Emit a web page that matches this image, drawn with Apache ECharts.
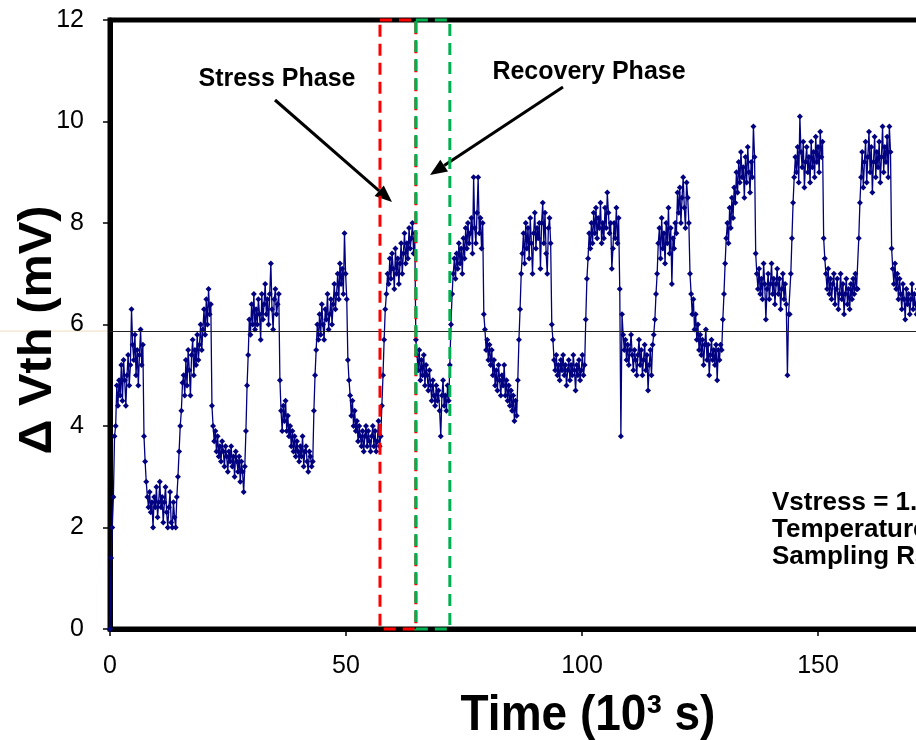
<!DOCTYPE html>
<html>
<head>
<meta charset="utf-8">
<script src="https://cdn.jsdelivr.net/npm/echarts@6/dist/echarts.min.js"></script>
<style>
  html, body { margin: 0; padding: 0; background: #fff; }
  #chart { width: 916px; height: 740px; }
</style>
</head>
<body>
<div id="chart"></div>
<script>
// 时间单位 10^3 s，每个应力/恢复阶段 7.2
const phaseLength = 7.2;
const sampleStep = 0.24;

// ΔVth (mV) 应力阶段
const stressPhases = [
  [0, 1.4, 2.0, 2.6, 3.8, 4.0, 4.8, 4.4, 4.9, 4.6, 5.2, 4.5, 5.3, 4.9, 4.4, 5.0, 5.4, 4.8, 5.2, 6.3, 5.6, 5.3, 5.8, 5.0, 5.5, 4.8, 5.4, 5.9, 5.2, 5.6],
  [3.0, 3.5, 4.0, 4.3, 4.85, 5.0, 4.6, 5.3, 4.8, 5.5, 5.1, 4.6, 5.4, 5.7, 5.0, 5.5, 5.2, 5.8, 5.3, 5.6, 6.0, 5.5, 5.9, 6.3, 5.8, 6.5, 6.0, 6.7, 6.2, 6.4],
  [3.9, 4.8, 5.4, 6.1, 5.8, 6.4, 6.0, 6.6, 5.9, 6.3, 6.0, 6.5, 6.2, 5.7, 6.6, 6.1, 6.4, 6.8, 6.2, 6.5, 6.0, 6.6, 7.2, 6.3, 5.9, 6.5, 6.7, 6.2, 6.4, 6.6],
  [4.3, 5.0, 5.5, 6.0, 5.7, 6.2, 5.8, 6.4, 6.0, 5.7, 6.3, 6.1, 6.6, 5.9, 6.2, 6.5, 6.0, 6.4, 6.8, 6.3, 6.6, 7.0, 6.5, 7.2, 6.8, 7.1, 6.6, 7.8, 7.0, 6.5],
  [4.4, 5.0, 5.7, 6.3, 6.6, 7.0, 6.8, 7.3, 6.9, 7.4, 7.1, 6.7, 7.5, 7.0, 7.3, 6.8, 7.2, 7.6, 7.0, 7.4, 7.8, 7.2, 7.6, 7.3, 7.9, 7.5, 7.7, 8.0, 7.4, 7.8],
  [5.2, 6.0, 6.6, 7.0, 7.3, 6.9, 7.4, 7.1, 7.6, 7.2, 7.5, 7.0, 7.7, 7.3, 7.9, 7.5, 8.0, 7.6, 7.8, 8.1, 7.4, 8.9, 7.9, 7.6, 8.2, 8.9, 7.8, 8.1, 7.5, 8.0],
  [4.9, 5.7, 6.3, 7.0, 7.4, 7.8, 7.2, 8.0, 7.5, 7.9, 7.3, 8.1, 7.6, 7.0, 7.8, 8.2, 7.5, 7.9, 7.7, 8.0, 7.1, 8.0, 8.4, 7.6, 8.2, 7.4, 7.0, 7.9, 8.1, 7.6],
  [6.1, 6.9, 7.3, 7.8, 7.5, 8.0, 7.6, 8.2, 7.8, 8.3, 7.7, 8.1, 7.9, 8.4, 7.6, 8.0, 7.7, 8.3, 7.9, 8.6, 8.2, 7.8, 8.0, 7.1, 7.5, 8.0, 7.7, 8.3, 7.6, 8.1],
  [5.8, 6.1, 6.6, 7.0, 7.6, 7.9, 7.3, 8.1, 7.5, 7.8, 7.2, 8.0, 7.6, 8.3, 7.4, 7.9, 6.8, 7.7, 7.5, 8.0, 7.8, 8.6, 8.2, 8.7, 8.0, 8.5, 8.9, 8.3, 7.9, 8.8],
  [5.5, 6.1, 6.6, 7.2, 7.7, 8.0, 7.6, 8.3, 7.9, 8.5, 8.1, 8.7, 8.4, 9.0, 8.6, 9.2, 8.8, 9.4, 8.9, 9.1, 8.5, 9.3, 8.8, 9.5, 9.0, 8.6, 9.2, 8.9, 9.9, 9.3],
  [6.2, 7.0, 7.7, 8.4, 8.9, 9.3, 9.0, 9.5, 8.8, 10.1, 9.4, 9.1, 9.6, 8.7, 9.2, 9.5, 9.0, 9.3, 8.8, 9.6, 9.1, 9.4, 8.9, 9.7, 9.2, 9.5, 9.0, 9.8, 9.3, 9.6],
  [6.7, 7.7, 8.4, 8.9, 9.4, 8.7, 9.2, 9.6, 8.8, 9.3, 9.8, 9.0, 9.5, 8.6, 9.2, 9.7, 8.9, 9.4, 9.1, 9.6, 8.8, 9.3, 9.9, 9.0, 9.5, 9.2, 9.7, 8.9, 9.9, 9.4]
];

// ΔVth (mV) 恢复阶段
const recoveryPhases = [
  [3.8, 3.3, 2.9, 2.6, 2.4, 2.7, 2.3, 2.5, 2.0, 2.6, 2.4, 2.8, 2.2, 2.5, 2.9, 2.4, 2.6, 2.1, 2.5, 2.8, 2.3, 2.0, 2.4, 2.7, 2.1, 2.0, 2.5, 2.2, 2.0, 2.6],
  [4.4, 4.0, 3.7, 3.9, 3.5, 3.8, 3.4, 3.6, 3.3, 3.7, 3.5, 3.2, 3.6, 3.4, 3.1, 3.5, 3.3, 3.6, 3.2, 3.4, 3.0, 3.5, 3.3, 3.1, 3.4, 2.9, 3.3, 3.1, 2.7, 3.2],
  [4.9, 4.3, 3.9, 4.4, 4.1, 4.5, 3.9, 4.2, 3.8, 4.0, 3.6, 3.9, 3.5, 3.8, 3.4, 3.7, 3.5, 3.3, 3.6, 3.4, 3.8, 3.2, 3.5, 3.6, 3.3, 3.1, 3.5, 3.4, 3.2, 3.3],
  [5.3, 4.9, 4.6, 4.2, 4.5, 4.0, 4.3, 3.9, 4.1, 3.7, 4.0, 3.8, 3.6, 3.9, 3.5, 3.8, 4.0, 3.6, 3.9, 3.7, 3.5, 3.8, 4.0, 3.6, 3.9, 3.5, 3.7, 4.1, 3.6, 3.8],
  [5.7, 5.4, 5.1, 5.5, 4.9, 5.3, 5.0, 5.4, 4.8, 5.2, 5.0, 4.7, 5.1, 4.8, 4.5, 4.9, 4.6, 4.4, 4.8, 4.5, 4.7, 4.3, 3.8, 4.6, 4.9, 4.4, 4.6, 4.3, 4.8, 4.5],
  [6.2, 5.9, 5.5, 5.7, 5.3, 5.6, 5.2, 5.5, 5.0, 5.3, 4.8, 5.1, 4.7, 5.2, 4.9, 4.6, 5.0, 4.8, 5.2, 4.6, 4.9, 4.5, 4.8, 4.4, 4.7, 4.3, 4.6, 4.1, 4.5, 4.2],
  [6.0, 5.7, 5.3, 5.1, 5.4, 5.0, 5.2, 4.9, 5.3, 5.1, 5.4, 5.0, 5.2, 4.8, 5.1, 5.3, 4.9, 5.2, 5.0, 5.4, 5.1, 4.7, 5.2, 5.0, 5.3, 4.9, 5.1, 5.4, 5.0, 5.2],
  [6.7, 3.8, 6.2, 5.8, 5.5, 5.7, 5.3, 5.6, 5.2, 5.5, 5.8, 5.4, 5.1, 5.5, 5.3, 5.0, 5.4, 5.7, 5.2, 5.5, 5.0, 5.3, 5.6, 5.1, 5.4, 4.7, 5.2, 5.5, 5.0, 5.6],
  [8.5, 8.0, 7.0, 6.6, 6.2, 6.5, 5.9, 6.2, 5.7, 6.0, 5.5, 5.8, 5.4, 5.7, 5.2, 5.6, 5.9, 5.3, 5.6, 5.0, 5.4, 5.7, 5.3, 5.5, 5.2, 5.6, 4.9, 5.5, 5.3, 5.6],
  [7.4, 7.0, 6.7, 7.1, 6.6, 6.9, 6.5, 7.2, 6.8, 6.1, 6.7, 7.0, 6.5, 6.8, 7.2, 6.6, 6.9, 6.4, 6.8, 7.1, 6.6, 6.9, 6.3, 6.7, 7.0, 6.5, 6.8, 6.4, 5.0, 6.2],
  [7.7, 7.3, 7.0, 6.7, 7.1, 6.6, 6.9, 6.5, 6.8, 7.0, 6.4, 6.7, 6.9, 6.3, 6.6, 7.0, 6.5, 6.8, 6.2, 6.6, 6.9, 6.4, 6.7, 6.3, 6.8, 6.5, 6.9, 6.6, 7.0, 6.7],
  [7.5, 7.1, 6.8, 7.2, 6.7, 7.0, 6.5, 6.9, 6.6, 6.3, 6.8, 6.5, 6.1, 6.7, 6.4, 6.6, 6.2, 6.5, 6.8, 6.3, 6.6, 6.4, 6.2, 6.7, 6.5, 6.3, 6.6, 6.4, 6.2, 6.5]
];

const refLevel = 5.87;
const stressBox = [57.2, 64.8];
const recoveryBox = [64.8, 72.0];
const noteLines = ['Vstress = 1.2 V', 'Temperature = 125 °C', 'Sampling Rate = 1 Hz'];

const FONT = '"Liberation Sans", Arial, sans-serif';

// 拼接 [t, ΔVth]
const points = [];
stressPhases.forEach((s, k) => {
  const t0 = 2 * k * phaseLength;
  s.forEach((v, i) => points.push([t0 + i * sampleStep, v]));
  recoveryPhases[k].forEach((v, i) => points.push([t0 + phaseLength + i * sampleStep, v]));
});

// 箭头
function arrow(x1, y1, x2, y2) {
  const a = Math.atan2(y2 - y1, x2 - x1);
  const len = 17, half = 7;
  const bx = x2 - len * Math.cos(a), by = y2 - len * Math.sin(a);
  return {
    type: 'group',
    children: [
      { type: 'line', shape: { x1: x1, y1: y1, x2: bx, y2: by }, style: { stroke: '#000', lineWidth: 3 } },
      {
        type: 'polygon',
        shape: { points: [[x2, y2], [bx + half * Math.sin(a), by - half * Math.cos(a)], [bx - half * Math.sin(a), by + half * Math.cos(a)]] },
        style: { fill: '#000' }
      }
    ]
  };
}

function txt(x, y, text, size, align, extra) {
  return Object.assign({
    type: 'text', x: x, y: y, z: 100,
    style: {
      text: text, font: 'bold ' + size + 'px ' + FONT, fill: '#000',
      textAlign: align, align: align, textVerticalAlign: 'middle', verticalAlign: 'middle'
    }
  }, extra || {});
}

const chart = echarts.init(document.getElementById('chart'));
chart.setOption({
  animation: false,
  backgroundColor: '#fff',
  grid: {
    left: 110, top: 20, width: 944, height: 609,
    outerBoundsMode: 'none', containLabel: false,
    show: true, borderColor: '#000', borderWidth: 5
  },
  xAxis: {
    type: 'value', min: 0, max: 200, interval: 50,
    axisLine: { show: true, lineStyle: { color: '#000', width: 5 } },
    axisTick: { show: true, length: 7, lineStyle: { color: '#000', width: 1.5 } },
    axisLabel: { fontSize: 25, color: '#000', fontFamily: FONT, margin: 25 },
    splitLine: { show: false }
  },
  yAxis: {
    type: 'value', min: 0, max: 12, interval: 2,
    axisLine: { show: true, lineStyle: { color: '#000', width: 5 } },
    axisTick: { show: true, length: 7, lineStyle: { color: '#000', width: 1.5 } },
    axisLabel: { fontSize: 25, color: '#000', fontFamily: FONT, margin: 26 },
    splitLine: { show: false }
  },
  series: [
    {
      type: 'line',
      data: points,
      symbol: 'diamond',
      symbolSize: 6,
      showAllSymbol: true,
      sampling: null,
      lineStyle: { color: '#000080', width: 1.3 },
      itemStyle: { color: '#000080' },
      markLine: {
        silent: true, symbol: ['none', 'none'], label: { show: false },
        lineStyle: { color: '#222', width: 1, type: 'solid' },
        data: [{ yAxis: refLevel }]
      }
    },
    {
      type: 'custom',
      z: 10,
      data: [[stressBox[0], stressBox[1], 0], [recoveryBox[0], recoveryBox[1], 1]],
      renderItem: function (params, api) {
        const p0 = api.coord([api.value(0), 12]);
        const p1 = api.coord([api.value(1), 0]);
        return {
          type: 'rect',
          shape: { x: p0[0], y: p0[1], width: p1[0] - p0[0], height: p1[1] - p0[1] },
          style: { fill: 'none', stroke: api.value(2) ? '#00b050' : '#ff0000', lineWidth: 3, lineDash: [12, 7] }
        };
      }
    }
  ]
});

const yRef = chart.convertToPixel({ yAxisIndex: 0 }, refLevel);
chart.setOption({
  graphic: [
    { type: 'line', shape: { x1: 0, y1: yRef, x2: 107, y2: yRef }, style: { stroke: '#f0dcc0', lineWidth: 1 } },
    txt(38, 330, 'Δ Vth (mV)', 46, 'center', { rotation: Math.PI / 2, scaleX: 1.06 }),
    txt(588, 716, 'Time (10³ s)', 46, 'center', { scaleY: 1.08 }),
    txt(277, 79, 'Stress Phase', 25, 'center'),
    txt(589, 72, 'Recovery Phase', 25, 'center'),
    txt(772, 503, noteLines[0], 26, 'left'),
    txt(772, 530, noteLines[1], 26, 'left'),
    txt(772, 557, noteLines[2], 26, 'left'),
    arrow(275, 100, 392, 202),
    arrow(563, 87, 430, 175)
  ]
});
</script>
</body>
</html>
